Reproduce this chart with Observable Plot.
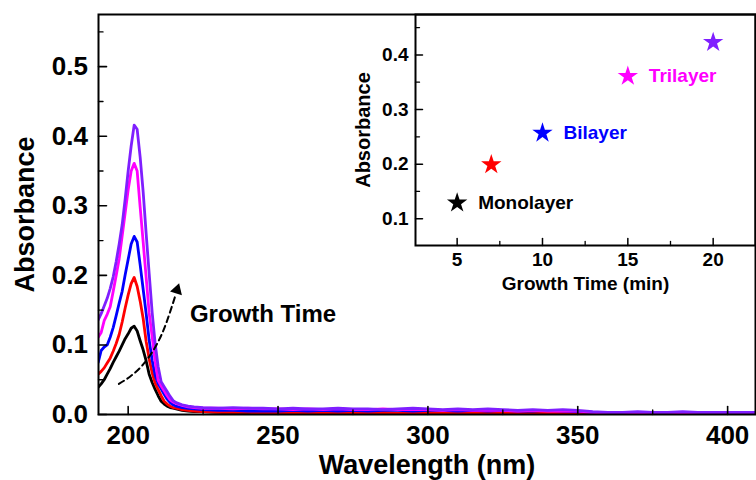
<!DOCTYPE html>
<html>
<head>
<meta charset="utf-8">
<script src="https://cdn.jsdelivr.net/npm/d3@7"></script>
<script src="https://cdn.jsdelivr.net/npm/@observablehq/plot@0.6"></script>
<style>
  body { margin: 0; background: #fff; }
  #chart { position: relative; width: 756px; height: 480px; overflow: hidden; }
  #chart svg { position: absolute; top: 0; }
</style>
</head>
<body>
<div id="chart"></div>
<script>
// ---------- main spectra ----------
const wavelength = [
  190,191,192,193,194,195,196,197,198,199,200,201,202,203,204,205,206,207,208,209,210,211,212,213,214,215,216,
  218,220,222,225,
  230,235,240,245,250,255,260,265,270,275,280,285,290,295,300,305,310,315,320,325,330,335,340,345,350,355,360,365,370,375,380,385,390,395,400,405,409
];
const abs5min = [
  0.039,0.044,0.050,0.058,0.066,0.075,0.083,0.091,0.100,0.109,0.116,0.124,0.127,0.120,0.106,0.093,0.077,0.058,0.046,0.036,0.027,0.019,0.015,0.012,0.010,0.009,0.008,
  0.006,0.005,0.004,0.004,
  0.003,0.002,0.002,0.002,0.001,0.002,0.002,0.001,0.002,0.002,0.001,0.002,0.001,0.002,0.002,0.001,0.002,0.001,0.001,0.002,0.001,0.002,0.001,0.001,0.002,0.001,0.001,0.002,0.001,0.001,0.001,0.002,0.001,0.001,0.001,0.001,0.001
];
const abs7min = [
  0.058,0.062,0.067,0.074,0.081,0.091,0.102,0.115,0.133,0.153,0.172,0.188,0.197,0.184,0.163,0.138,0.105,0.080,0.060,0.045,0.036,0.027,0.019,0.015,0.012,0.010,0.009,
  0.007,0.006,0.005,0.004,
  0.003,0.003,0.003,0.002,0.003,0.002,0.003,0.002,0.002,0.003,0.002,0.003,0.002,0.002,0.003,0.002,0.002,0.003,0.002,0.002,0.003,0.002,0.002,0.003,0.002,0.002,0.001,0.002,0.001,0.001,0.002,0.001,0.001,0.001,0.001,0.001,0.001
];
const abs10min = [
  0.075,0.092,0.097,0.100,0.111,0.125,0.142,0.160,0.177,0.201,0.223,0.245,0.256,0.248,0.215,0.180,0.145,0.107,0.078,0.056,0.044,0.037,0.029,0.022,0.017,0.014,0.012,
  0.010,0.009,0.008,0.007,
  0.006,0.006,0.005,0.005,0.005,0.006,0.005,0.006,0.005,0.006,0.005,0.006,0.006,0.005,0.006,0.006,0.005,0.006,0.005,0.006,0.005,0.005,0.006,0.005,0.004,0.003,0.003,0.002,0.003,0.003,0.002,0.003,0.003,0.002,0.003,0.003,0.003
];
const abs15min = [
  0.111,0.118,0.135,0.144,0.155,0.177,0.200,0.224,0.257,0.290,0.323,0.350,0.361,0.350,0.298,0.248,0.197,0.146,0.112,0.076,0.049,0.041,0.034,0.027,0.021,0.018,0.016,
  0.013,0.011,0.010,0.009,
  0.009,0.008,0.009,0.008,0.008,0.007,0.008,0.007,0.008,0.007,0.007,0.008,0.007,0.007,0.007,0.006,0.007,0.006,0.006,0.006,0.005,0.006,0.005,0.005,0.005,0.003,0.002,0.003,0.002,0.002,0.003,0.002,0.002,0.002,0.002,0.002,0.002
];
const abs20min = [
  0.136,0.145,0.156,0.167,0.181,0.198,0.220,0.245,0.273,0.310,0.350,0.386,0.416,0.410,0.370,0.320,0.260,0.203,0.147,0.102,0.069,0.047,0.040,0.033,0.026,0.020,0.017,
  0.014,0.012,0.011,0.010,
  0.009,0.010,0.009,0.009,0.008,0.009,0.008,0.008,0.009,0.008,0.008,0.007,0.008,0.009,0.008,0.007,0.008,0.007,0.008,0.007,0.006,0.007,0.006,0.007,0.006,0.004,0.003,0.003,0.004,0.003,0.003,0.004,0.003,0.003,0.003,0.003,0.003
];
const seriesValues = [abs5min, abs7min, abs10min, abs15min, abs20min];
const seriesColors = ["#000000", "#ff0000", "#0000ff", "#ff00ff", "#7f1fff"];

const xMajorTicks = [200, 250, 300, 350, 400];
const xMinorTicks = [225, 275, 325, 375];
const yMajorTicks = [0, 0.1, 0.2, 0.3, 0.4, 0.5];
const yMinorTicks = [0.05, 0.15, 0.25, 0.35, 0.45, 0.55];

// "Growth Time" dashed arrow (data units)
const arrowWl  = [196.9, 200.8, 205.2, 209.7, 213.0, 215.9];
const arrowAbs = [0.044, 0.055, 0.073, 0.102, 0.135, 0.173];
const arrowHeadWl = [216.3];
const arrowHeadAbs = [0.179];
const noteWl = [220.6];
const noteAbs = [0.1437];

// ---------- inset ----------
const growthTime = [5, 7, 10, 15, 20];
const peakAbs = [0.129, 0.199, 0.257, 0.361, 0.423];
const layerNames = ["Monolayer", "", "Bilayer", "Trilayer", ""];
const insetXMajor = [5, 10, 15, 20];
const insetXMinor = [7.5, 12.5, 17.5];
const insetYMajor = [0.1, 0.2, 0.3, 0.4];
const insetYMinor = [0.15, 0.25, 0.35, 0.45];

const FONT = "'Liberation Sans', Arial, Helvetica, sans-serif";
const upShape = {draw(ctx, l) { ctx.moveTo(0, 0); ctx.lineTo(0, -l); }};
const rightShape = {draw(ctx, l) { ctx.moveTo(0, 0); ctx.lineTo(l, 0); }};

const xDomain = [190.1, 409.3];
const yDomain = [0, 0.575];

const lineMarks = seriesValues.map((vals, k) => {
  const rows = wavelength.map((w, i) => ({w, a: vals[i]}));
  return Plot.line(rows, {x: "w", y: "a", stroke: seriesColors[k], strokeWidth: 2.8, clip: true});
});

const arrowRows = arrowWl.map((w, i) => ({w, a: arrowAbs[i]}));

const main = Plot.plot({
  width: 756, height: 480,
  marginLeft: 98, marginRight: 1, marginTop: 14, marginBottom: 66,
  x: {domain: xDomain},
  y: {domain: yDomain},
  style: {fontFamily: FONT, fontWeight: "bold", background: "transparent", color: "black", overflow: "visible"},
  marks: [
    ...lineMarks,
    Plot.line(arrowRows, {x: "w", y: "a", stroke: "black", strokeWidth: 2, strokeDasharray: "6,4", curve: "natural"}),
    Plot.dot(arrowHeadWl.map((w, i) => ({w, a: arrowHeadAbs[i]})), {x: "w", y: "a", symbol: "triangle", r: 4.6, fill: "black", rotate: 17}),
    Plot.text(noteWl.map((w, i) => ({w, a: noteAbs[i]})), {x: "w", y: "a", text: () => "Growth Time", textAnchor: "start", fontSize: 24, fontWeight: "bold", fill: "black"}),
    Plot.vector(xMajorTicks, {x: d => d, y: yDomain[0], length: 8, anchor: "start", shape: upShape, stroke: "black", strokeWidth: 1.6}),
    Plot.vector(xMinorTicks, {x: d => d, y: yDomain[0], length: 4.5, anchor: "start", shape: upShape, stroke: "black", strokeWidth: 1.4}),
    Plot.vector(yMajorTicks, {x: xDomain[0], y: d => d, length: 8, anchor: "start", shape: rightShape, stroke: "black", strokeWidth: 1.6}),
    Plot.vector(yMinorTicks, {x: xDomain[0], y: d => d, length: 4.5, anchor: "start", shape: rightShape, stroke: "black", strokeWidth: 1.4}),
    Plot.axisX({ticks: xMajorTicks, tickSize: 0, tickPadding: 11, fontSize: 26, fontWeight: "bold", label: null}),
    Plot.axisY({ticks: yMajorTicks, tickFormat: d3.format(".1f"), tickSize: 0, tickPadding: 10.5, fontSize: 26, fontWeight: "bold", label: null}),
    Plot.frame({stroke: "black", strokeWidth: 2}),
    Plot.text(["Wavelength (nm)"], {frameAnchor: "bottom", dy: 59, lineAnchor: "bottom", textAnchor: "middle", text: d => d, fontSize: 27, fontWeight: "bold", fill: "black"}),
    Plot.text(["Absorbance"], {frameAnchor: "left", dx: -73, lineAnchor: "middle", textAnchor: "middle", text: d => d, rotate: -90, fontSize: 27, fontWeight: "bold", fill: "black"})
  ]
});
main.style.left = "0px";

const insetRows = growthTime.map((t, i) => ({t, a: peakAbs[i], c: seriesColors[i], n: layerNames[i]}));
const insetXDomain = [2.56, 22.48];
const insetYDomain = [0.051, 0.474];

const inset = Plot.plot({
  width: 426, height: 300,
  marginLeft: 85, marginRight: 1, marginTop: 14, marginBottom: 55,
  x: {domain: insetXDomain},
  y: {domain: insetYDomain},
  color: {type: "identity"},
  style: {fontFamily: FONT, fontWeight: "bold", background: "transparent", color: "black", overflow: "visible"},
  marks: [
    Plot.frame({stroke: "black", strokeWidth: 2}),
    Plot.vector(insetXMajor, {x: d => d, y: insetYDomain[0], length: 7, anchor: "start", shape: upShape, stroke: "black", strokeWidth: 1.5}),
    Plot.vector(insetXMinor, {x: d => d, y: insetYDomain[0], length: 4, anchor: "start", shape: upShape, stroke: "black", strokeWidth: 1.3}),
    Plot.vector(insetYMajor, {x: insetXDomain[0], y: d => d, length: 7, anchor: "start", shape: rightShape, stroke: "black", strokeWidth: 1.5}),
    Plot.vector(insetYMinor, {x: insetXDomain[0], y: d => d, length: 4, anchor: "start", shape: rightShape, stroke: "black", strokeWidth: 1.3}),
    Plot.axisX({ticks: insetXMajor, tickSize: 0, tickPadding: 7, fontSize: 19, fontWeight: "bold", label: null}),
    Plot.axisY({ticks: insetYMajor, tickFormat: d3.format(".1f"), tickSize: 0, tickPadding: 7, fontSize: 19, fontWeight: "bold", label: null}),
    Plot.dot(insetRows, {x: "t", y: "a", symbol: "star", r: 6.4, fill: "c", stroke: "none"}),
    Plot.text(insetRows.filter(d => d.n), {x: "t", y: "a", text: "n", fill: "c", dx: 21, textAnchor: "start", fontSize: 19, fontWeight: "bold"}),
    Plot.text(["Growth Time (min)"], {frameAnchor: "bottom", dy: 44, lineAnchor: "bottom", textAnchor: "middle", text: d => d, fontSize: 19, fontWeight: "bold", fill: "black"}),
    Plot.text(["Absorbance"], {frameAnchor: "left", dx: -52, lineAnchor: "middle", textAnchor: "middle", text: d => d, rotate: -90, fontSize: 20, fontWeight: "bold", fill: "black"})
  ]
});
inset.style.left = "330px";

const chart = document.getElementById("chart");
chart.appendChild(main);
chart.appendChild(inset);
</script>
</body>
</html>
